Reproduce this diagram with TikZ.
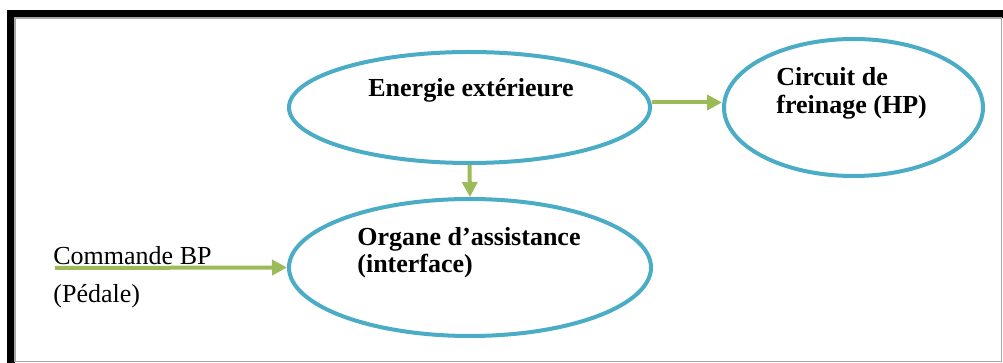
\documentclass[tikz,border=0pt]{standalone}
\usepackage{fontspec}
\setmainfont{Liberation Serif}
\usetikzlibrary{shapes, arrows.meta, positioning}
\definecolor{elblue}{HTML}{4BACC6}
\definecolor{argreen}{HTML}{9BBB59}

\begin{document}
\begin{tikzpicture}[x=0.5pt, y=-0.5pt,
  ebox/.style={ellipse, draw=elblue, line width=2pt, inner sep=0pt},
  btxt/.style={font=\fontsize{13}{14}\selectfont\bfseries, align=left, inner sep=0pt, anchor=base west},
  ntxt/.style={font=\fontsize{13}{14}\selectfont, inner sep=0pt, anchor=base west},
  garrow/.style={draw=argreen, line width=2pt, -{Triangle[length=7.5pt, width=7.5pt]}}
]
  \useasboundingbox (0,0) rectangle (1003,363);
  % frame
  \fill[black] (7,10) rectangle (1003,18);
  \fill[black] (7,10) rectangle (15,363);
  \draw[gray!70, line width=0.6pt] (15,18) rectangle (1001.5,361.5);

  % ellipses
  \node[ebox, minimum width=180.5pt, minimum height=55.5pt] (energie) at (469.5,107.5) {};
  \node[ebox, minimum width=129.5pt, minimum height=68.5pt] (circuit) at (853.5,107.5) {};
  \node[ebox, minimum width=181pt, minimum height=68.5pt] (organe) at (470,267.5) {};

  % texts (base of a two-line node = last line)
  \node[btxt] (energietxt) at (368,97) {Energie extérieure};
  \node[btxt] (circuittxt) at (776,114) {Circuit de\\freinage (HP)};
  \node[btxt, font=\fontsize{13}{13.5}\selectfont\bfseries] (organetxt) at (357,273) {Organe d’assistance\\(interface)};
  \node[ntxt] (commande) at (53,265) {Commande BP};
  \node[ntxt] (pedale) at (53,303) {(Pédale)};

  % arrows
  \coordinate (cmdstart) at (55,268);
  \draw[garrow] (energie.south) -- (organe.north);
  \draw[garrow] ([yshift=2.5pt]energie.east) -- ([yshift=2.5pt]circuit.west);
  \draw[garrow] (cmdstart) -- (organe.west);
\end{tikzpicture}
\end{document}
